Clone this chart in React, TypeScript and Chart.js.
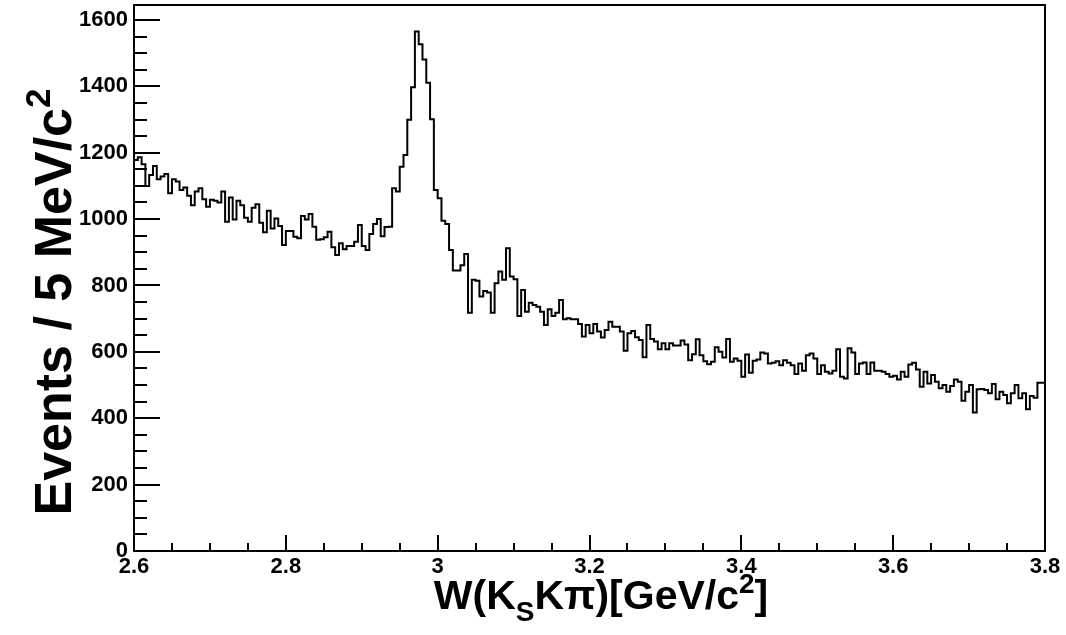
import React, { useEffect, useRef } from "react";
import { Chart, registerables } from "chart.js";

Chart.register(...registerables);

// Histogram definition: 240 bins of 5 MeV from 2.6 to 3.8 GeV
const xMin = 2.6;
const xMax = 3.8;
const binWidth = 0.005;

// Events per bin, split in pieces
const countsA = [
  1168, 1178, 1186, 1165, 1100, 1133, 1160, 1120, 1128, 1136,
  1078, 1120, 1113, 1088, 1095, 1070, 1042, 1083, 1093, 1060,
  1037, 1058, 1055, 1050, 1083, 992, 1065, 999, 1055, 1042,
  1004, 992, 1034, 1045, 989, 960, 1025, 972, 1002, 979,
  922, 964, 964, 947, 942, 1009, 999, 1015, 977, 938,
];
const countsB = [
  939, 945, 962, 915, 892, 927, 909, 919, 919, 932,
  982, 919, 907, 955, 985, 1000, 948, 976, 977, 1093,
  1083, 1158, 1193, 1299, 1397, 1565, 1527, 1481, 1411, 1301,
  1088, 1063, 995, 985, 907, 845, 845, 861, 895, 718,
  817, 814, 767, 783, 779, 718, 807, 842, 817, 912,
];
const countsC = [
  827, 819, 708, 786, 721, 748, 741, 736, 721, 681,
  728, 708, 718, 756, 698, 701, 698, 698, 684, 646,
  681, 656, 684, 661, 643, 666, 691, 676, 676, 661,
  603, 656, 663, 644, 636, 584, 681, 639, 631, 608,
  626, 608, 626, 619, 619, 634, 622, 575, 593, 638,
];
const countsD = [
  590, 572, 563, 570, 614, 600, 583, 639, 570, 580,
  573, 525, 592, 537, 573, 577, 598, 595, 565, 567,
  572, 560, 575, 567, 560, 533, 565, 543, 590, 595,
  580, 533, 560, 540, 535, 543, 608, 525, 520, 611,
  598, 533, 565, 568, 533, 568, 543, 543, 540, 533,
];
const countsE = [
  525, 528, 517, 540, 525, 562, 567, 547, 495, 540,
  505, 530, 510, 490, 500, 480, 497, 517, 510, 453,
  480, 500, 417, 487, 488, 485, 475, 503, 457, 480,
  470, 445, 475, 500, 460, 475, 427, 467, 462, 507,
];
const counts = [...countsA, ...countsB, ...countsC, ...countsD, ...countsE];

const xTickValues = [2.6, 2.8, 3.0, 3.2, 3.4, 3.6, 3.8];
const xTickLabels = ["2.6", "2.8", "3", "3.2", "3.4", "3.6", "3.8"];
const xMinorStep = 0.05;
const yMin = 0;
const yMax = 1645;
const yTickValues = [0, 200, 400, 600, 800, 1000, 1200, 1400, 1600];
const yTickLabels = ["0", "200", "400", "600", "800", "1000", "1200", "1400", "1600"];
const yMinorStep = 50;

const FONT = "'Liberation Sans', Arial, Helvetica, sans-serif";

const rootPlugin = {
  id: "rootFrame",
  afterDraw(chart: any) {
    const ctx = chart.ctx;
    const { left, right, top, bottom } = chart.chartArea;
    const xs = chart.scales.x;
    const ys = chart.scales.y;
    ctx.save();
    ctx.strokeStyle = "#000";
    ctx.lineWidth = 2;
    ctx.strokeRect(left, top, right - left, bottom - top);

    ctx.beginPath();
    for (let v = yMin; v <= yMax + 1e-6; v += yMinorStep) {
      const y = Math.round(ys.getPixelForValue(v));
      const major = Math.abs(v / 200 - Math.round(v / 200)) < 1e-6;
      const len = major ? 26 : 13;
      ctx.moveTo(left, y);
      ctx.lineTo(left + len, y);
    }
    const n = Math.round((xMax - xMin) / xMinorStep);
    for (let i = 0; i <= n; i++) {
      const v = xMin + i * xMinorStep;
      const x = Math.round(xs.getPixelForValue(v));
      const major = i % 4 === 0;
      const len = major ? 16 : 8;
      ctx.moveTo(x, bottom);
      ctx.lineTo(x, bottom - len);
    }
    ctx.stroke();

    // X title: W(K_S Kπ)[GeV/c^2]
    ctx.fillStyle = "#000";
    const big = `bold 41px ${FONT}`;
    const small = `bold 28px ${FONT}`;
    const parts = [
      { t: "W(K", f: big, dy: 0 },
      { t: "S", f: small, dy: 12 },
      { t: "K\u03c0)[GeV/c", f: big, dy: 0 },
      { t: "2", f: small, dy: -16 },
      { t: "]", f: big, dy: 0 },
    ];
    let total = 0;
    for (const p of parts) {
      ctx.font = p.f;
      total += ctx.measureText(p.t).width;
    }
    let x0 = 601 - total / 2;
    const base = 609;
    ctx.textBaseline = "alphabetic";
    ctx.textAlign = "left";
    for (const p of parts) {
      ctx.font = p.f;
      ctx.fillText(p.t, x0, base + p.dy);
      x0 += ctx.measureText(p.t).width;
    }

    // Y title: Events / 5 MeV/c^2 (rotated)
    const ybig = `bold 52px ${FONT}`;
    const ysmall = `bold 35px ${FONT}`;
    ctx.translate(71, 302);
    ctx.rotate(-Math.PI / 2);
    const yparts = [
      { t: "Events / 5 MeV/c", f: ybig, dy: 0 },
      { t: "2", f: ysmall, dy: -21 },
    ];
    let ytot = 0;
    for (const p of yparts) {
      ctx.font = p.f;
      ytot += ctx.measureText(p.t).width;
    }
    let yx = -ytot / 2;
    for (const p of yparts) {
      ctx.font = p.f;
      ctx.fillText(p.t, yx, p.dy);
      yx += ctx.measureText(p.t).width;
    }
    ctx.restore();
  },
};

export default function App() {
  const canvasRef = useRef<HTMLCanvasElement | null>(null);

  useEffect(() => {
    const canvas = canvasRef.current;
    if (!canvas) return;
    const points = counts.map((c, i) => ({ x: xMin + i * binWidth, y: c }));
    points.push({ x: xMax, y: counts[counts.length - 1] });

    const chart = new Chart(canvas, {
      type: "line",
      data: {
        datasets: [
          {
            data: points,
            stepped: "after",
            borderColor: "#000",
            borderWidth: 2,
            pointRadius: 0,
            fill: false,
          } as any,
        ],
      },
      options: {
        animation: false,
        responsive: false,
        devicePixelRatio: 1,
        layout: { padding: { top: 5, right: 21, left: 0, bottom: 0 } },
        plugins: { legend: { display: false }, tooltip: { enabled: false } },
        scales: {
          x: {
            type: "linear",
            min: xMin,
            max: xMax,
            grid: { display: false, drawTicks: false },
            border: { display: false },
            ticks: {
              color: "#000",
              font: { family: FONT, weight: "bold", size: 22 },
              padding: 3,
              maxRotation: 0,
              autoSkip: false,
              callback: (_v: any, i: number) => xTickLabels[i],
            },
            afterBuildTicks: (s: any) => {
              s.ticks = xTickValues.map((v) => ({ value: v }));
            },
            afterFit: (s: any) => {
              s.height = 84;
              s.paddingLeft = 0;
              s.paddingRight = 0;
            },
          },
          y: {
            type: "linear",
            min: yMin,
            max: yMax,
            grid: { display: false, drawTicks: false },
            border: { display: false },
            ticks: {
              color: "#000",
              font: { family: FONT, weight: "bold", size: 22 },
              padding: 6,
              autoSkip: false,
              callback: (_v: any, i: number) => yTickLabels[i],
            },
            afterBuildTicks: (s: any) => {
              s.ticks = yTickValues.map((v) => ({ value: v }));
            },
            afterFit: (s: any) => {
              s.width = 134;
              s.paddingTop = 0;
              s.paddingBottom = 0;
            },
          },
        },
      } as any,
      plugins: [rootPlugin],
    });
    return () => chart.destroy();
  }, []);

  return (
    <div style={{ position: "absolute", left: 0, top: 0, width: 1066, height: 635, background: "#fff" }}>
      <canvas ref={canvasRef} width={1066} height={635} style={{ display: "block" }} />
    </div>
  );
}
